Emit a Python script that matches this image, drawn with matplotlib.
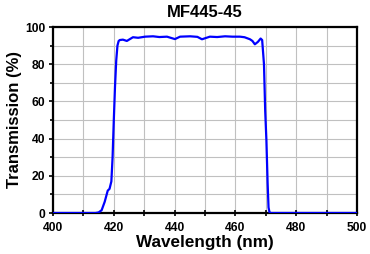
import matplotlib
matplotlib.use('Agg')
import matplotlib.pyplot as plt
from matplotlib.ticker import MultipleLocator

plt.rcParams['font.family'] = ['Liberation Sans', 'DejaVu Sans']

# transmission curve
wavelength = [400, 410, 414, 415, 416, 417, 418, 418.6, 419.2, 419.6, 420, 420.4, 420.8, 421.2,
              421.6, 422, 423, 424.3, 426.3, 428, 430.3, 432.9, 435, 437.5, 440.1, 441.8,
              445.1, 447.5, 449, 451.6, 454, 456.6, 459, 461.5, 463, 464.8, 465.6, 466.4,
              467.4, 468.3, 468.8, 469.4, 469.8, 470.2, 470.6, 470.9, 471.2, 471.6, 480, 500]
transmission = [0, 0, 0, 0.3, 1.5, 6, 12, 13, 17, 30, 50, 68, 82, 90,
                92.5, 93, 93.2, 92.5, 94.5, 94.2, 94.8, 95, 94.6, 94.8, 93.5, 94.8,
                95, 94.7, 93.4, 94.8, 94.6, 95, 94.8, 94.8, 94.5, 93.4, 92.5, 90.7,
                92, 93.8, 93, 80, 55, 39, 16, 3, 0.5, 0, 0, 0]

title = 'MF445-45'
xlabel = 'Wavelength (nm)'
ylabel = 'Transmission (%)'

fig = plt.figure(figsize=(3.7, 2.54), dpi=100)
ax = fig.add_axes([53/370, 41/254, 304/370, 186/254])

ax.plot(wavelength, transmission, color='#0000ff', lw=1.6, zorder=3)

ax.set_xlim(400, 500)
ax.set_ylim(0, 100)
ax.xaxis.set_major_locator(MultipleLocator(20))
ax.xaxis.set_minor_locator(MultipleLocator(10))
ax.yaxis.set_major_locator(MultipleLocator(20))
ax.yaxis.set_minor_locator(MultipleLocator(10))
ax.grid(True, which='both', color='#c0c0c0', lw=0.8, zorder=0)
ax.set_axisbelow(True)

for s in ax.spines.values():
    s.set_linewidth(1.6)
    s.set_color('black')

ax.tick_params(which='both', direction='out', width=1.2, labelsize=8.7)
ax.tick_params(which='major', length=3)
ax.tick_params(which='minor', length=2.5)
ax.tick_params(axis='x', which='both', direction='inout', length=4, pad=4.5)
ax.tick_params(axis='y', pad=2.5)
for lab in ax.get_xticklabels() + ax.get_yticklabels():
    lab.set_fontweight('bold')

ax.set_title(title, fontsize=12, fontweight='bold', pad=7)
ax.set_xlabel(xlabel, fontsize=12.3, fontweight='bold', labelpad=1)
ax.set_ylabel(ylabel, fontsize=12, fontweight='bold', labelpad=2)

fig.savefig('out.png', dpi=100)
